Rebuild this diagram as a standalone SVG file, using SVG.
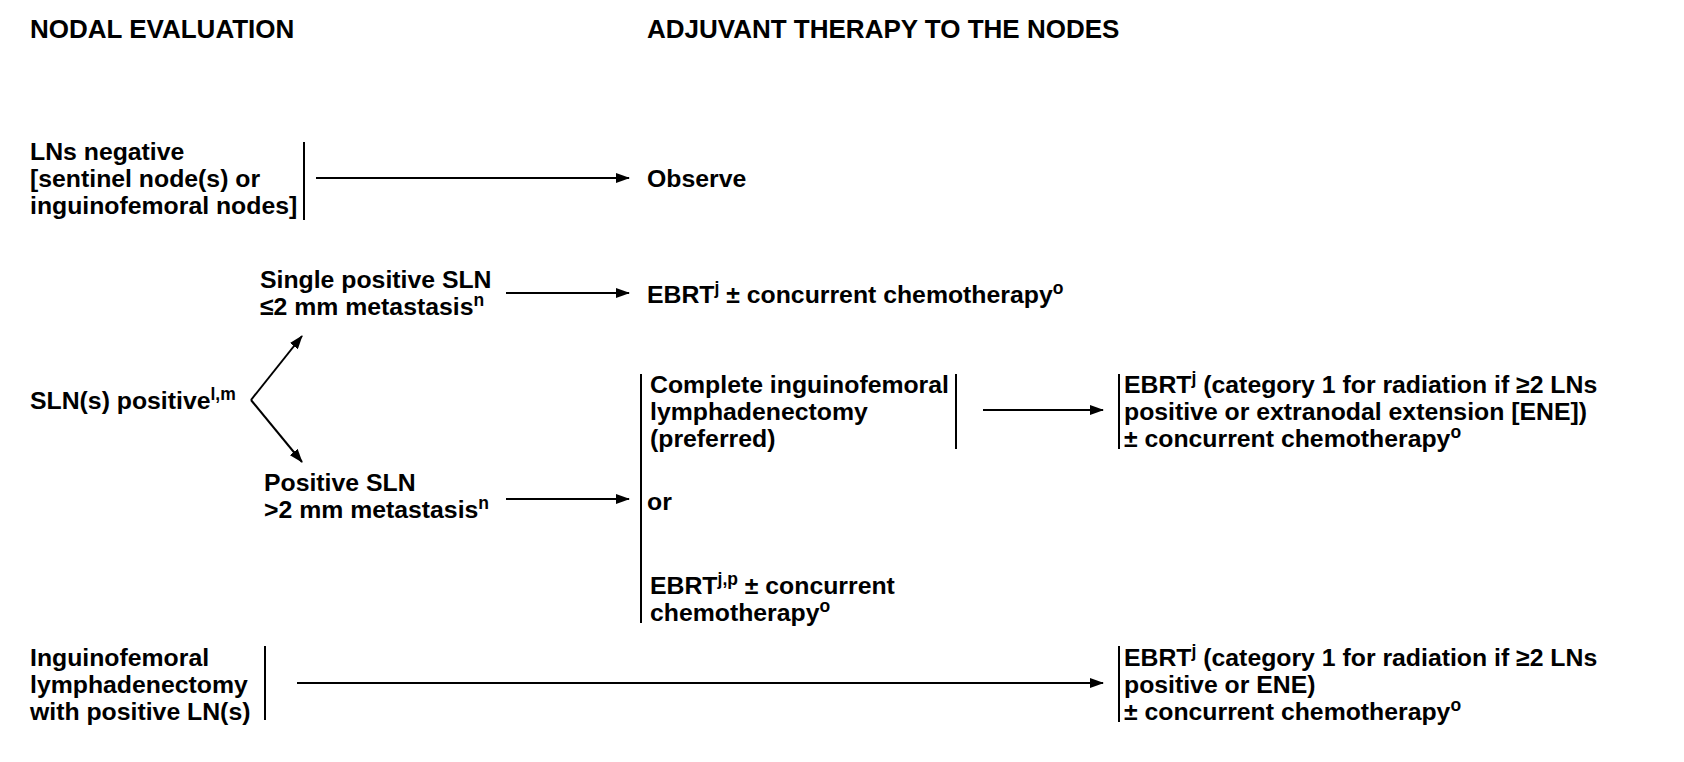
<svg xmlns="http://www.w3.org/2000/svg" width="1684" height="762" viewBox="0 0 1684 762">
<style>
text{font-family:"Liberation Sans",Arial,sans-serif;font-weight:bold;font-size:24.8px;fill:#000}
.h{font-size:26px}
.s{font-size:17.5px}
.ln{stroke:#000;stroke-width:2;fill:none}
</style>
<defs>
<marker id="ah" markerWidth="14" markerHeight="10" refX="13" refY="5" orient="auto" markerUnits="userSpaceOnUse">
<path d="M0,0 L14,5 L0,10 Z" fill="#000"/>
</marker>
</defs>
<rect width="1684" height="762" fill="#fff"/>
<g id="headers">
<text class="h" x="30" y="38">NODAL EVALUATION</text>
<text class="h" x="647" y="38">ADJUVANT THERAPY TO THE NODES</text>
</g>
<g id="n-lns-negative">
<text x="30" y="160">LNs negative</text>
<text x="30" y="187">[sentinel node(s) or</text>
<text x="30" y="214">inguinofemoral nodes]</text>
<line class="ln" x1="304" y1="142" x2="304" y2="220"/>
</g>
<g id="n-observe"><text x="647" y="187">Observe</text></g>
<g id="n-single"><text x="260" y="288">Single positive SLN</text>
<text x="260" y="315">≤2 mm metastasis<tspan class="s" dy="-9">n</tspan></text></g>
<g id="n-ebrt1"><text x="647" y="303">EBRT<tspan class="s" dy="-9">j</tspan><tspan dy="9"> ± concurrent chemotherapy</tspan><tspan class="s" dy="-9">o</tspan></text></g>
<g id="n-sln-pos"><text x="30" y="409">SLN(s) positive<tspan class="s" dy="-9">l,m</tspan></text></g>
<g id="n-pos-sln"><text x="264" y="491">Positive SLN</text>
<text x="264" y="518">&gt;2 mm metastasis<tspan class="s" dy="-9">n</tspan></text></g>
<g id="n-options">
<line class="ln" x1="641" y1="374" x2="641" y2="623"/>
<text x="650" y="393">Complete inguinofemoral</text>
<text x="650" y="420">lymphadenectomy</text>
<text x="650" y="447">(preferred)</text>
<line class="ln" x1="956" y1="374" x2="956" y2="449"/>
<text x="647" y="510">or</text>
<text x="650" y="594">EBRT<tspan class="s" dy="-9">j,p</tspan><tspan dy="9"> ± concurrent</tspan></text>
<text x="650" y="621">chemotherapy<tspan class="s" dy="-9">o</tspan></text>
</g>
<g id="n-ebrt2">
<line class="ln" x1="1119" y1="374" x2="1119" y2="449"/>
<text x="1124" y="393">EBRT<tspan class="s" dy="-9">j</tspan><tspan dy="9"> (category 1 for radiation if ≥2 LNs</tspan></text>
<text x="1124" y="420">positive or extranodal extension [ENE])</text>
<text x="1124" y="447">± concurrent chemotherapy<tspan class="s" dy="-9">o</tspan></text>
</g>
<g id="n-ing">
<text x="30" y="666">Inguinofemoral</text>
<text x="30" y="693">lymphadenectomy</text>
<text x="30" y="720">with positive LN(s)</text>
<line class="ln" x1="265" y1="646" x2="265" y2="720"/>
</g>
<g id="n-ebrt3">
<line class="ln" x1="1119" y1="646" x2="1119" y2="722"/>
<text x="1124" y="666">EBRT<tspan class="s" dy="-9">j</tspan><tspan dy="9"> (category 1 for radiation if ≥2 LNs</tspan></text>
<text x="1124" y="693">positive or ENE)</text>
<text x="1124" y="720">± concurrent chemotherapy<tspan class="s" dy="-9">o</tspan></text>
</g>
<g id="connectors">
<line class="ln" x1="316" y1="178" x2="629" y2="178" marker-end="url(#ah)"/>
<line class="ln" x1="506" y1="293" x2="629" y2="293" marker-end="url(#ah)"/>
<line class="ln" x1="251" y1="400" x2="302" y2="336" marker-end="url(#ah)"/>
<line class="ln" x1="251" y1="400" x2="302" y2="462" marker-end="url(#ah)"/>
<line class="ln" x1="506" y1="499" x2="629" y2="499" marker-end="url(#ah)"/>
<line class="ln" x1="983" y1="410" x2="1103" y2="410" marker-end="url(#ah)"/>
<line class="ln" x1="297" y1="683" x2="1103" y2="683" marker-end="url(#ah)"/>
</g>
</svg>
